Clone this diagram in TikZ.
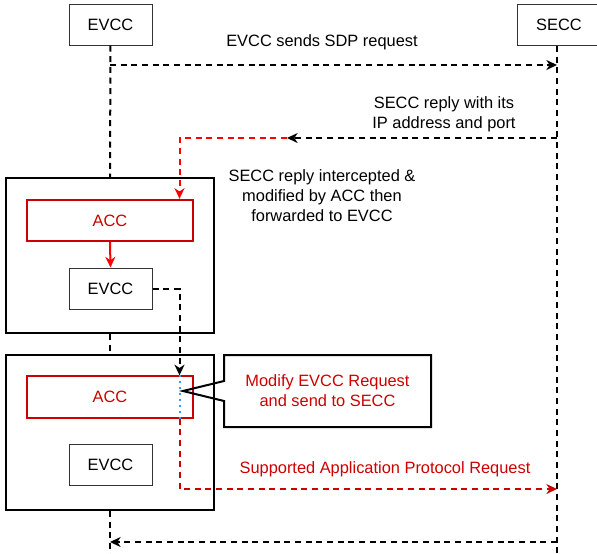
\documentclass[tikz,border=0pt]{standalone}
\usepackage{fontspec}
\setmainfont{Liberation Sans}
\usetikzlibrary{arrows.meta,shapes.callouts}
\definecolor{accred}{HTML}{CC0000}
\definecolor{hotred}{HTML}{FF0000}
\definecolor{tapblue}{HTML}{3399FF}

\begin{document}
\begin{tikzpicture}[x=0.75pt, y=-0.75pt,
  every node/.style={font=\fontsize{12.3pt}{15pt}\selectfont},
  party/.style={draw, draw opacity=0.8, line width=0.75pt, minimum width=62.25pt, minimum height=30.75pt, inner sep=0pt},
  accbox/.style={draw=accred, text=accred, line width=1.5pt, minimum width=124.5pt, minimum height=31pt, inner sep=0pt},
  group/.style={draw, line width=1.5pt, minimum width=156pt, minimum height=116.25pt, inner sep=0pt},
  life/.style={line width=1.5pt, dash pattern=on 4.5pt off 3.5pt},
  msg/.style={life, -{Stealth[length=8pt, width=7.5pt, inset=2.5pt]}},
  redmsg/.style={msg, color=accred}]
  \useasboundingbox (0,0) rectangle (597,554);

  \node[party] (evcc) at (110.5,24.5) {EVCC};
  \node[party] (secc) at (559,24.5) {SECC};

  \node[group] (grpA) at (110,255.5) {};
  \node[accbox] (accA) at (110,220.5) {ACC};
  \node[party] (evccA) at (110.5,288.5) {EVCC};

  \node[group] (grpB) at (110,432.5) {};
  \node[accbox] (accB) at (110,397) {ACC};
  \node[party] (evccB) at (110.5,464.5) {EVCC};

  \coordinate (seccTop) at (557,46);
  \coordinate (seccEnd) at (557,554);
  \coordinate (evccEnd) at (110,554);
  \draw[life] (evcc.south) -- (grpA.north);
  \draw[life] (grpA.south) -- (grpB.north);
  \draw[life] (grpB.south) -- (evccEnd);
  \draw[life] (seccTop) -- (seccEnd);

  \coordinate (reqA) at (110,65);
  \coordinate (reqB) at (557,65);
  \node (sdp) at (322,42) {EVCC sends SDP request};
  \draw[msg] (reqA) -- (reqB);

  \coordinate (repA) at (557,138);
  \coordinate (repB) at (287,138);
  \coordinate (tap) at (179.5,138);
  \node[align=center] (reply) at (444,114) {SECC reply with its\\IP address and port};
  \draw[msg] (repA) -- (repB);
  \draw[redmsg, color=hotred] (repB) -| (tap |- accA.north);

  \node[align=center] (intercept) at (322,196) {SECC reply intercepted \&\\modified by ACC then\\forwarded to EVCC};
  \draw[msg, color=hotred, solid] (accA.south) -- (evccA.north);
  \draw[msg] (evccA.east) -| (tap |- accB.north);

  \node[rectangle callout, draw, line width=1.5pt, minimum width=155.25pt, minimum height=54pt,
    callout absolute pointer={(183,391)}, callout pointer width=15pt,
    align=center, text=accred] (note) at (327.5,391) {Modify EVCC Request\\and send to SECC};
  \draw[tapblue, line width=1.5pt, dash pattern=on 1.5pt off 3pt] (tap |- accB.north) -- (tap |- accB.south);

  \coordinate (sapB) at (557,489);
  \node[text=accred] (sap) at (385,469) {Supported Application Protocol Request};
  \draw[redmsg] (tap |- accB.south) |- (sapB);

  \coordinate (resA) at (557,542);
  \coordinate (resB) at (110,542);
  \draw[msg] (resA) -- (resB);
\end{tikzpicture}
\end{document}
